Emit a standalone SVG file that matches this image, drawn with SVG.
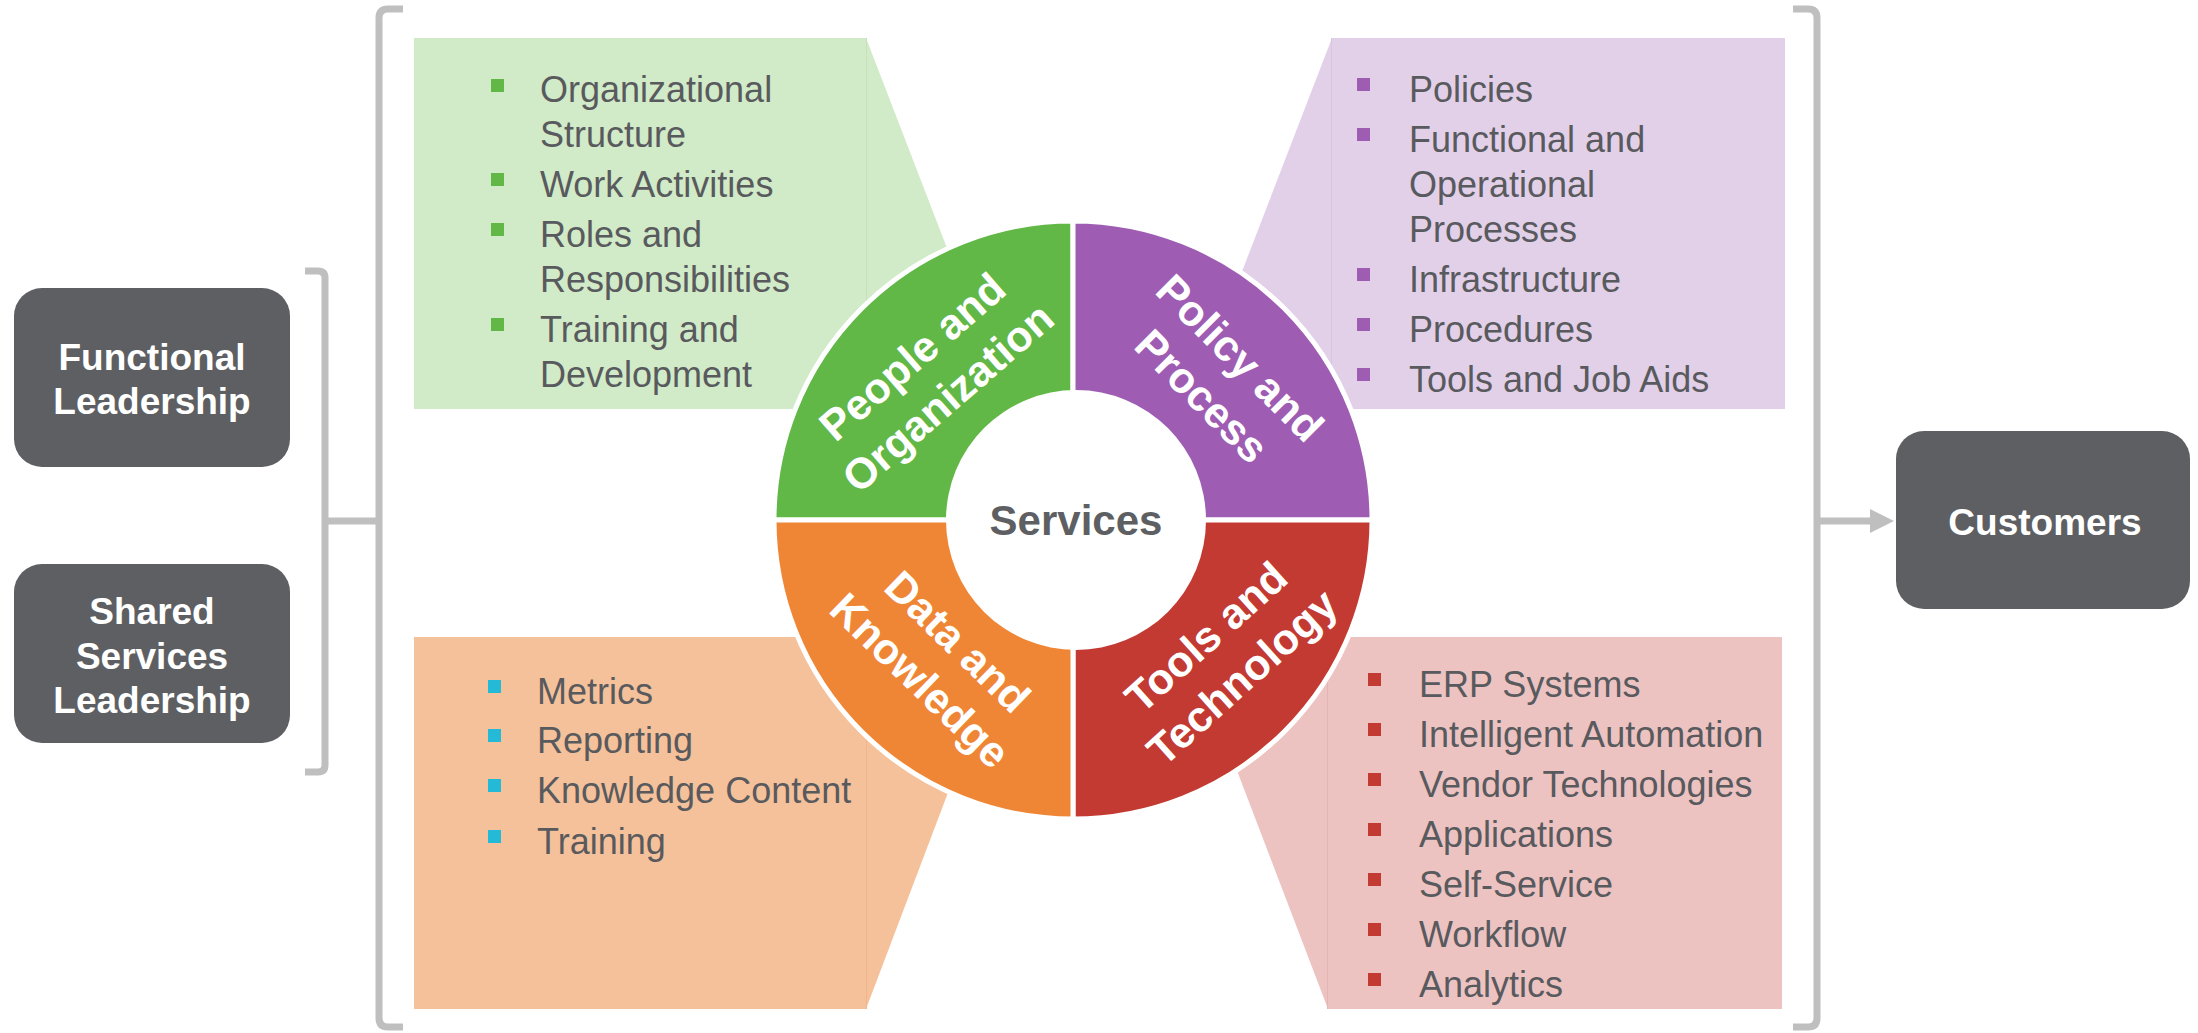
<svg xmlns="http://www.w3.org/2000/svg" width="2198" height="1033" viewBox="0 0 2198 1033">
<style>
.item{font-family:"Liberation Sans",Arial,sans-serif;font-size:36px;fill:#595A5E}
.lead{font-family:"Liberation Sans",Arial,sans-serif;font-size:37px;font-weight:bold;fill:#ffffff;text-anchor:middle}
.ring{font-family:"Liberation Sans",Arial,sans-serif;font-size:43px;font-weight:bold;fill:#ffffff;text-anchor:middle}
.ctr{font-family:"Liberation Sans",Arial,sans-serif;font-size:42px;font-weight:bold;fill:#5E5F63;text-anchor:middle}
.box{fill:#5E5F63}
.br{fill:none;stroke:#BFBFBF;stroke-width:7}
.seg{stroke:#ffffff;stroke-width:5}
</style>
<rect width="2198" height="1033" fill="#ffffff"/>

<g id="callouts">
<g id="callout-people">
<rect x="414" y="38" width="452" height="371" fill="#D1EAC7"/>
<polygon points="866,38 1009,409 866,409" fill="#D1EAC7"/>
<line x1="866.5" y1="38" x2="866.5" y2="409" stroke="#C5E2B9" stroke-width="1"/>
</g>
<g id="callout-policy">
<rect x="1332" y="38" width="453" height="371" fill="#E2D0E9"/>
<polygon points="1332,38 1189,409 1332,409" fill="#E2D0E9"/>
<line x1="1331.5" y1="38" x2="1331.5" y2="409" stroke="#D8C4E0" stroke-width="1"/>
</g>
<g id="callout-data">
<rect x="414" y="637" width="452" height="372" fill="#F5C19A"/>
<polygon points="866,1009 1007,637 866,637" fill="#F5C19A"/>
<line x1="866.5" y1="637" x2="866.5" y2="1009" stroke="#EFB68C" stroke-width="1"/>
</g>
<g id="callout-tools">
<rect x="1328" y="637" width="454" height="372" fill="#EDC3C2"/>
<polygon points="1328,1009 1186,637 1328,637" fill="#EDC3C2"/>
<line x1="1327.5" y1="637" x2="1327.5" y2="1009" stroke="#E3B5B4" stroke-width="1"/>
</g>
</g>

<g id="ring">
<path id="seg-people" class="seg" d="M1073,520 L774,520 A299,299 0 0 1 1073,221 Z" fill="#62B846"/>
<path id="seg-policy" class="seg" d="M1073,520 L1073,221 A299,299 0 0 1 1372,520 Z" fill="#9E5CB3"/>
<path id="seg-tools" class="seg" d="M1073,520 L1372,520 A299,299 0 0 1 1073,819 Z" fill="#C33A32"/>
<path id="seg-data" class="seg" d="M1073,520 L1073,819 A299,299 0 0 1 774,520 Z" fill="#EF8636"/>
<circle cx="1076" cy="520" r="130" fill="#ffffff"/>
<g transform="translate(930,377) rotate(-41)"><text class="ring" x="0" y="-12">People and</text><text class="ring" x="0" y="42">Organization</text></g>
<g transform="translate(1221,377) rotate(45)"><text class="ring" x="0" y="-12">Policy and</text><text class="ring" x="0" y="42">Process</text></g>
<g transform="translate(939,661) rotate(44)"><text class="ring" x="0" y="-12">Data and</text><text class="ring" x="0" y="42">Knowledge</text></g>
<g transform="translate(1224,657) rotate(-42)"><text class="ring" x="0" y="-12">Tools and</text><text class="ring" x="0" y="42">Technology</text></g>
</g>
<g id="services"><text class="ctr" x="1076" y="535">Services</text></g>

<g id="list-people">
<g fill="#62B846">
<rect x="491" y="79" width="13" height="13"/>
<rect x="491" y="173" width="13" height="13"/>
<rect x="491" y="223" width="13" height="13"/>
<rect x="491" y="318" width="13" height="13"/>
</g>
<text class="item" x="540" y="102">Organizational</text>
<text class="item" x="540" y="147">Structure</text>
<text class="item" x="540" y="197">Work Activities</text>
<text class="item" x="540" y="247">Roles and</text>
<text class="item" x="540" y="292">Responsibilities</text>
<text class="item" x="540" y="342">Training and</text>
<text class="item" x="540" y="387">Development</text>
</g>

<g id="list-policy">
<g fill="#9E5CB3">
<rect x="1357" y="78" width="13" height="13"/>
<rect x="1357" y="128" width="13" height="13"/>
<rect x="1357" y="268" width="13" height="13"/>
<rect x="1357" y="318" width="13" height="13"/>
<rect x="1357" y="368" width="13" height="13"/>
</g>
<text class="item" x="1409" y="102">Policies</text>
<text class="item" x="1409" y="152">Functional and</text>
<text class="item" x="1409" y="197">Operational</text>
<text class="item" x="1409" y="242">Processes</text>
<text class="item" x="1409" y="292">Infrastructure</text>
<text class="item" x="1409" y="342">Procedures</text>
<text class="item" x="1409" y="392">Tools and Job Aids</text>
</g>

<g id="list-data">
<g fill="#24B9D7">
<rect x="488" y="680" width="13" height="13"/>
<rect x="488" y="729" width="13" height="13"/>
<rect x="488" y="779" width="13" height="13"/>
<rect x="488" y="830" width="13" height="13"/>
</g>
<text class="item" x="537" y="704">Metrics</text>
<text class="item" x="537" y="753">Reporting</text>
<text class="item" x="537" y="803">Knowledge Content</text>
<text class="item" x="537" y="854">Training</text>
</g>

<g id="list-tools">
<g fill="#C33A32">
<rect x="1368" y="673" width="13" height="13"/>
<rect x="1368" y="723" width="13" height="13"/>
<rect x="1368" y="773" width="13" height="13"/>
<rect x="1368" y="823" width="13" height="13"/>
<rect x="1368" y="873" width="13" height="13"/>
<rect x="1368" y="923" width="13" height="13"/>
<rect x="1368" y="973" width="13" height="13"/>
</g>
<text class="item" x="1419" y="697">ERP Systems</text>
<text class="item" x="1419" y="747">Intelligent Automation</text>
<text class="item" x="1419" y="797">Vendor Technologies</text>
<text class="item" x="1419" y="847">Applications</text>
<text class="item" x="1419" y="897">Self-Service</text>
<text class="item" x="1419" y="947">Workflow</text>
<text class="item" x="1419" y="997">Analytics</text>
</g>

<g id="functional-leadership">
<rect class="box" x="14" y="288" width="276" height="179" rx="28"/>
<text class="lead" x="152" y="370">Functional</text>
<text class="lead" x="152" y="414">Leadership</text>
</g>
<g id="shared-services-leadership">
<rect class="box" x="14" y="564" width="276" height="179" rx="28"/>
<text class="lead" x="152" y="624">Shared</text>
<text class="lead" x="152" y="669">Services</text>
<text class="lead" x="152" y="713">Leadership</text>
</g>
<g id="customers">
<rect class="box" x="1896" y="431" width="294" height="178" rx="28"/>
<text class="lead" x="2045" y="535">Customers</text>
</g>

<g id="connectors">
<path class="br" d="M305,271 H318 Q325,271 325,278 V765 Q325,772 318,772 H305"/>
<path class="br" d="M403,9 H388 Q379,9 379,18 V1018 Q379,1027 388,1027 H403"/>
<path class="br" d="M325,521 H379"/>
<path class="br" d="M1793,9 H1808 Q1817,9 1817,18 V1018 Q1817,1027 1808,1027 H1793"/>
<path class="br" d="M1817,521 H1872"/>
<polygon points="1870,509 1894,521 1870,533" fill="#BFBFBF"/>
</g>
</svg>
